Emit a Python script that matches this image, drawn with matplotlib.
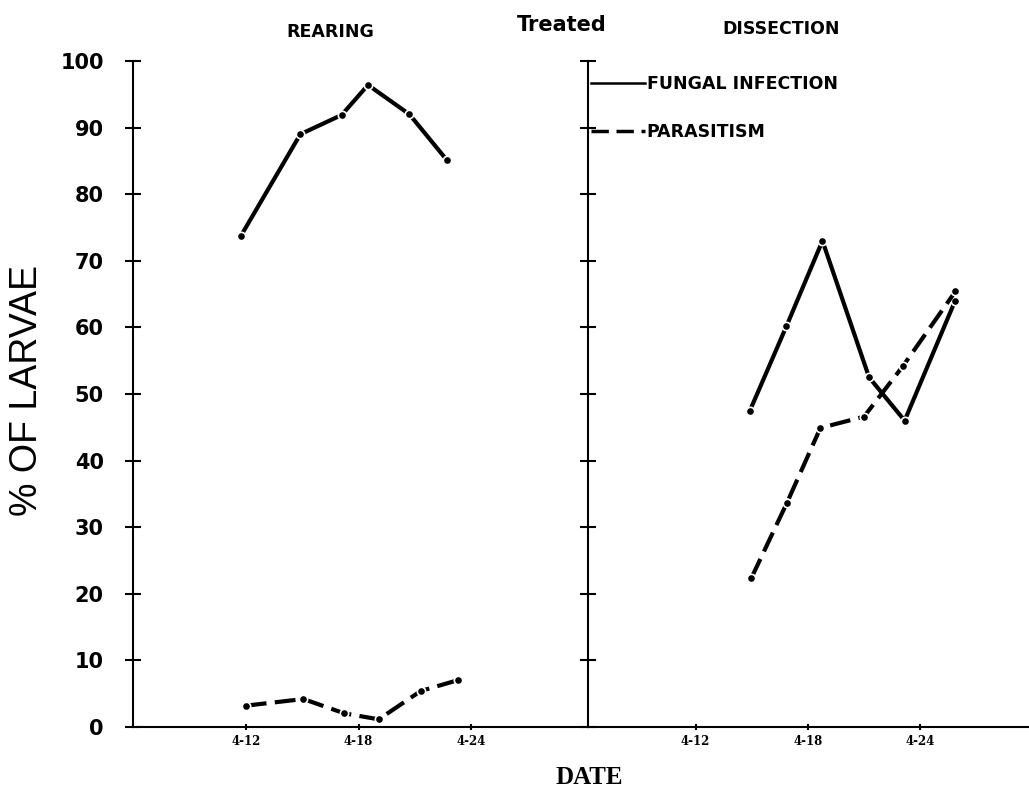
import matplotlib.pyplot as plt
import numpy as np
from matplotlib.lines import Line2D

# April day numbers and % of larvae, read per panel
rear_fungal_day = [11.73, 14.9, 17.1, 18.5, 20.7, 22.7]
rear_fungal_pct = [73.7, 89.0, 91.9, 96.4, 92.0, 85.1]
rear_para_day = [12.0, 15.06, 17.24, 19.07, 21.3, 23.3]
rear_para_pct = [3.2, 4.2, 2.05, 1.15, 5.4, 7.05]

diss_fungal_day = [14.88, 16.85, 18.77, 21.26, 23.16, 25.84]
diss_fungal_pct = [47.4, 60.2, 73.0, 52.5, 46.0, 63.9]
diss_para_day = [14.98, 16.88, 18.66, 20.99, 23.07, 25.87]
diss_para_pct = [22.4, 33.7, 44.9, 46.6, 54.2, 65.4]

date_ticks = [12, 18, 24]
date_labels = ["4-12", "4-18", "4-24"]
pct_ticks = list(range(0, 101, 10))

W, H = 1029, 788
fig = plt.figure(figsize=(W / 100, H / 100), dpi=100)

bottom = (H - 727) / H
height = 666 / H
axL = fig.add_axes([133 / W, bottom, 455 / W, height])
axR = fig.add_axes([588 / W, bottom, 441 / W, height])

dash = (5, 2)
for ax, fd, fp, pd_, pp, xl in [
    (axL, rear_fungal_day, rear_fungal_pct, rear_para_day, rear_para_pct, (6, 30.2)),
    (axR, diss_fungal_day, diss_fungal_pct, diss_para_day, diss_para_pct, (6.25, 29.8)),
]:
    ax.plot(fd, fp, color="k", lw=3, marker="o", ms=6, mfc="k", mec="white", mew=1.2,
            solid_capstyle="round")
    ax.plot(pd_, pp, color="k", lw=3, dashes=dash, marker="o", ms=6, mfc="k",
            mec="white", mew=1.2)
    ax.set_xlim(*xl)
    ax.set_ylim(0, 100)
    ax.set_xticks(date_ticks)
    ax.set_xticklabels(date_labels, fontfamily="DejaVu Serif", fontweight="bold", fontsize=8.5)
    ax.set_yticks(pct_ticks)
    for s in ["top", "right"]:
        ax.spines[s].set_visible(False)
    for s in ["left", "bottom"]:
        ax.spines[s].set_linewidth(1.5)
    ax.tick_params(axis="x", direction="inout", length=5, width=1.5, pad=3)
    ax.tick_params(axis="y", direction="inout", length=12, width=1.5, pad=15)
    ax.patch.set_visible(False)

axL.set_yticklabels([str(v) for v in pct_ticks], fontweight="bold", fontsize=15)
axR.set_yticklabels([])

# legend drawn as line + text pairs, no markers
handles = [Line2D([], [], color="k", lw=1.8),
           Line2D([], [], color="k", lw=2.5, dashes=(5, 2.2))]
axR.legend(handles=handles, labels=["FUNGAL INFECTION", "PARASITISM"],
           loc="upper left", bbox_to_anchor=(591 / W, 1 - 75 / H),
           bbox_transform=fig.transFigure, frameon=False, handlelength=3.1,
           handletextpad=0.1, labelspacing=1.72, borderpad=0, borderaxespad=0,
           prop=dict(weight="bold", size=12.5))

fig.text(27 / W, 1 - 391 / H, "% OF LARVAE", rotation=90, ha="center", va="center",
         fontfamily="Liberation Sans", fontsize=27)
fig.text(330 / W, 1 - 32 / H, "REARING", ha="center", va="center",
         fontweight="bold", fontsize=12.5)
fig.text(781 / W, 1 - 29 / H, "DISSECTION", ha="center", va="center",
         fontweight="bold", fontsize=12.5)
fig.text(562 / W, 1 - 25 / H, "Treated", ha="center", va="center",
         fontweight="bold", fontsize=15)
fig.text(589 / W, 1 - 777 / H, "DATE", ha="center", va="center",
         fontfamily="Liberation Serif", fontweight="bold", fontsize=18)

fig.savefig("out.png", dpi=100, facecolor="white")
